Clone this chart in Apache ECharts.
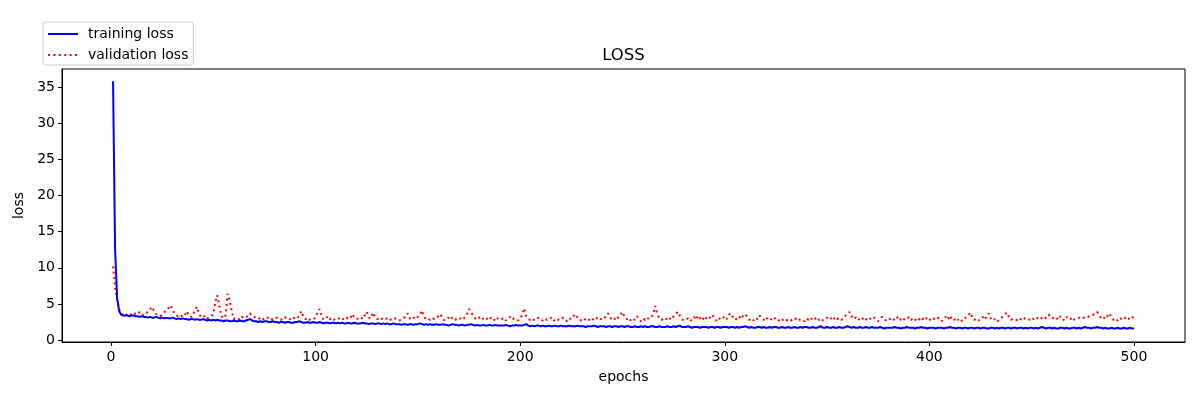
<!DOCTYPE html>
<html>
<head>
<meta charset="utf-8">
<script src="https://cdn.jsdelivr.net/npm/echarts@6/dist/echarts.min.js"></script>
<style>
html,body{margin:0;padding:0;background:#fff;}
#c{width:1200px;height:400px;}
</style>
</head>
<body>
<div id="c"></div>
<script>
var xTicks = [0, 100, 200, 300, 400, 500];
var yTicks = [0, 5, 10, 15, 20, 25, 30, 35];

var trainingLoss = [
35.8,12.5,5.8,4.0,3.5,3.4,3.4,3.4,3.3,3.4,
3.4,3.3,3.3,3.2,3.3,3.2,3.2,3.1,3.2,3.1,
3.1,3.2,3.1,3.0,3.1,3.0,3.1,3.0,3.0,3.1,
3.0,2.9,3.0,2.9,3.0,2.9,2.9,2.8,2.9,2.9,
2.8,2.9,2.8,2.8,2.9,2.8,2.7,2.8,2.7,2.8,
2.7,2.8,2.7,2.7,2.6,2.7,2.7,2.6,2.6,2.7,
2.6,2.6,2.7,2.6,2.6,2.7,2.8,2.9,2.7,2.6,
2.6,2.5,2.6,2.5,2.6,2.6,2.5,2.5,2.6,2.5,
2.5,2.4,2.5,2.5,2.4,2.5,2.5,2.4,2.4,2.5,
2.5,2.6,2.5,2.4,2.4,2.5,2.4,2.4,2.5,2.4,
2.4,2.5,2.4,2.3,2.4,2.4,2.3,2.4,2.4,2.3,
2.4,2.3,2.4,2.3,2.3,2.4,2.3,2.3,2.4,2.3,
2.3,2.3,2.4,2.3,2.3,2.2,2.3,2.3,2.2,2.3,
2.3,2.2,2.3,2.2,2.3,2.2,2.2,2.3,2.2,2.2,
2.2,2.1,2.2,2.2,2.1,2.2,2.2,2.1,2.2,2.2,
2.3,2.2,2.1,2.2,2.1,2.2,2.1,2.1,2.2,2.1,
2.1,2.2,2.1,2.1,2.0,2.1,2.2,2.1,2.1,2.0,
2.1,2.1,2.0,2.1,2.1,2.2,2.1,2.0,2.1,2.0,
2.0,2.1,2.0,2.0,2.1,2.0,2.0,2.1,2.0,2.0,
2.0,2.0,2.1,2.0,1.9,2.0,2.0,2.1,2.0,2.0,
2.0,2.1,2.2,2.0,1.9,2.0,1.9,2.0,2.0,1.9,
2.0,1.9,1.9,2.0,1.9,1.9,2.0,1.9,1.9,2.0,
1.9,1.9,1.9,2.0,1.9,1.9,1.9,2.0,1.9,1.9,
1.9,1.8,1.9,1.9,1.9,2.0,1.9,1.8,1.9,1.9,
1.9,1.8,1.9,1.9,1.8,1.9,1.9,1.8,1.9,1.9,
1.8,1.9,1.9,1.8,1.8,1.9,1.8,1.8,1.9,1.8,
1.9,1.8,1.8,1.9,1.9,1.8,1.8,1.9,1.8,1.8,
1.8,1.9,1.8,1.8,1.9,1.8,1.9,2.0,1.8,1.8,
1.8,1.9,1.8,1.7,1.8,1.8,1.8,1.7,1.8,1.8,
1.8,1.7,1.8,1.8,1.7,1.8,1.8,1.7,1.8,1.8,
1.8,1.7,1.8,1.8,1.7,1.8,1.7,1.8,1.8,1.9,
1.8,1.7,1.8,1.7,1.7,1.8,1.8,1.7,1.8,1.7,
1.7,1.8,1.7,1.8,1.8,1.7,1.7,1.8,1.7,1.7,
1.8,1.7,1.7,1.8,1.7,1.7,1.8,1.7,1.8,1.8,
1.7,1.7,1.8,1.7,1.7,1.8,1.9,1.7,1.7,1.8,
1.7,1.7,1.8,1.7,1.7,1.8,1.7,1.7,1.8,1.9,
1.8,1.7,1.8,1.7,1.7,1.8,1.7,1.7,1.8,1.7,
1.7,1.8,1.7,1.7,1.7,1.8,1.7,1.6,1.7,1.7,
1.7,1.7,1.8,1.7,1.7,1.6,1.7,1.7,1.8,1.7,
1.7,1.7,1.6,1.7,1.7,1.8,1.7,1.7,1.6,1.7,
1.7,1.7,1.6,1.7,1.7,1.7,1.6,1.7,1.7,1.8,
1.7,1.7,1.6,1.7,1.7,1.6,1.7,1.7,1.6,1.7,
1.7,1.6,1.7,1.7,1.6,1.7,1.7,1.6,1.6,1.7,
1.7,1.6,1.7,1.6,1.7,1.7,1.6,1.7,1.7,1.6,
1.7,1.7,1.6,1.7,1.7,1.6,1.7,1.6,1.7,1.7,
1.6,1.7,1.6,1.7,1.8,1.7,1.6,1.7,1.7,1.6,
1.7,1.6,1.6,1.7,1.7,1.6,1.7,1.6,1.6,1.7,
1.7,1.6,1.7,1.6,1.7,1.8,1.7,1.7,1.6,1.7,
1.7,1.8,1.7,1.7,1.6,1.7,1.6,1.6,1.7,1.6,
1.6,1.7,1.6,1.6,1.7,1.6,1.6,1.7,1.6,1.6
];

var validationLoss = [
10.2,7.4,5.4,4.3,3.6,3.5,3.7,3.4,3.6,3.5,
3.8,3.6,3.5,3.9,3.6,3.4,3.7,3.9,4.2,4.6,
4.1,3.6,3.4,3.3,3.5,3.8,4.2,4.4,4.8,4.3,
3.7,3.4,3.3,3.5,3.2,3.4,4.0,3.5,3.2,3.3,
4.2,4.6,3.6,3.2,3.1,3.4,3.0,3.1,3.3,3.6,
5.3,6.2,4.6,3.3,3.0,3.4,6.4,5.5,4.0,2.9,
3.1,3.0,2.8,3.2,3.0,3.1,3.4,3.7,3.3,3.2,
3.0,2.9,3.1,2.8,3.0,2.9,3.2,3.1,2.8,3.0,
3.1,2.9,2.8,3.0,3.2,2.9,3.0,2.8,3.1,3.0,
2.9,3.4,4.0,3.3,2.9,3.1,2.8,3.0,2.9,3.1,
3.9,4.3,3.2,2.8,3.0,3.3,2.9,3.1,2.8,3.0,
2.9,3.1,2.8,3.0,3.2,2.9,3.0,3.6,3.1,2.9,
3.0,3.2,2.9,3.4,3.9,3.1,3.0,3.8,3.2,2.9,
3.0,2.8,3.1,2.9,3.0,2.7,2.9,2.8,3.0,2.8,
2.7,2.9,3.0,3.3,3.7,3.0,2.8,3.1,2.9,3.2,
3.5,4.1,3.2,2.9,3.0,2.8,3.1,2.9,3.0,3.3,
3.6,3.0,2.7,2.9,3.1,2.8,3.2,3.0,2.7,2.9,
3.0,2.8,3.2,3.6,4.3,3.8,3.4,3.0,2.8,3.1,
3.3,2.9,2.7,3.0,2.8,3.2,2.9,2.6,3.0,2.8,
2.9,3.1,2.7,2.9,3.2,2.8,3.0,2.9,2.7,3.0,
3.5,4.4,3.3,2.9,2.8,3.0,2.7,2.9,3.1,2.8,
2.7,3.0,2.8,2.9,3.1,2.6,2.8,3.0,2.7,2.9,
3.1,2.8,2.6,3.0,2.9,3.3,3.6,3.1,2.8,2.7,
3.0,2.8,2.6,2.9,3.1,2.7,2.9,3.2,3.0,2.8,
2.9,3.4,3.7,3.1,2.8,3.0,2.7,3.2,3.5,3.9,
3.2,2.9,3.1,2.7,3.0,2.8,3.3,2.9,2.6,3.0,
2.8,3.1,2.9,3.2,3.5,4.7,3.6,3.0,2.8,2.9,
3.1,2.7,3.0,2.8,3.3,3.6,3.9,3.4,2.9,2.7,
2.8,3.0,2.6,2.9,3.2,2.8,3.4,3.0,2.7,3.3,
3.0,2.8,3.2,3.5,2.9,2.7,3.1,2.8,3.0,3.3,
2.9,3.5,3.7,3.1,2.8,3.0,3.3,2.9,3.4,3.6,
3.2,2.8,3.0,2.7,3.1,2.9,3.4,3.0,2.8,3.2,
2.9,2.7,3.0,3.2,2.8,2.6,2.9,2.7,3.0,2.8,
2.7,2.9,2.6,2.8,3.0,2.7,2.9,2.8,2.6,3.0,
2.8,3.1,2.7,2.9,3.2,2.8,3.0,2.7,2.9,3.1,
2.8,3.0,2.7,3.2,2.9,3.1,2.8,3.0,3.4,3.6,
3.9,3.3,2.9,3.1,2.7,3.0,2.8,3.2,2.9,2.7,
3.0,2.8,3.1,2.9,2.6,3.0,3.2,2.8,2.7,3.0,
2.9,3.1,2.7,3.0,3.3,2.8,2.6,3.0,2.9,3.2,
2.8,3.0,2.7,3.1,2.9,2.6,3.0,2.8,3.2,2.9,
2.7,3.0,2.8,3.1,2.9,2.6,3.0,3.2,2.8,3.4,
2.9,2.7,3.1,2.8,3.0,2.6,2.9,3.2,3.4,3.8,
3.1,2.8,3.0,2.7,2.9,3.2,2.8,3.3,3.7,3.0,
2.7,2.9,2.5,2.8,3.0,3.3,3.6,3.8,3.1,2.8,
3.0,2.9,2.7,3.0,2.8,3.1,2.9,3.0,2.8,3.1,
2.9,3.2,3.0,2.8,3.1,3.3,3.0,3.4,3.5,3.2,
2.9,3.1,2.8,3.3,3.0,2.7,3.2,2.9,3.0,2.6,
2.9,3.0,3.1,2.9,3.0,3.2,3.1,3.3,3.4,3.5,
3.7,3.9,3.4,3.0,3.2,2.9,3.3,3.7,3.1,2.8,
3.0,2.7,3.1,2.9,2.8,3.2,2.9,3.0,3.3,2.8
];

function pairs(arr) {
  var out = [];
  for (var i = 0; i < arr.length; i++) out.push([i + 1, arr[i]]);
  return out;
}

var FONT = 'DejaVu Sans';
var chart = echarts.init(document.getElementById('c'), null, {renderer: 'canvas'});
chart.setOption({
  animation: false,
  backgroundColor: '#ffffff',
  textStyle: {fontFamily: FONT},
  title: {
    text: 'LOSS',
    left: 623.5,
    textAlign: 'center',
    top: 47,
    padding: 0,
    textStyle: {fontFamily: FONT, fontSize: 16.5, fontWeight: 'normal', color: '#000'}
  },
  legend: {
    orient: 'vertical',
    left: 43,
    top: 22,
    padding: [5, 5, 3, 5],
    itemGap: 7,
    itemWidth: 30,
    itemHeight: 14,
    backgroundColor: '#ffffff',
    borderColor: '#cccccc',
    borderWidth: 1,
    borderRadius: 3,
    textStyle: {fontFamily: FONT, fontSize: 14, color: '#000', padding: [0, 0, 0, 5]},
    data: [
      {name: 'training loss', icon: 'path://M0,6L30,6L30,8L0,8Z', itemStyle: {color: '#0000ff'}},
      {name: 'validation loss', icon: 'path://M0,6L2,6L2,8L0,8Z M5.4,6L7.4,6L7.4,8L5.4,8Z M10.8,6L12.8,6L12.8,8L10.8,8Z M16.2,6L18.2,6L18.2,8L16.2,8Z M21.6,6L23.6,6L23.6,8L21.6,8Z M27,6L29,6L29,8L27,8Z M29.9,6L30,6L30,8L29.9,8Z', itemStyle: {color: '#ff0000'}}
    ]
  },
  grid: {
    left: 62, right: 15, top: 69, bottom: 58,
    show: true, borderColor: '#000', borderWidth: 1, backgroundColor: '#fff'
  },
  xAxis: {
    type: 'value',
    min: -23.95, max: 524.95,
    name: 'epochs',
    nameLocation: 'middle',
    nameGap: 28,
    nameTextStyle: {fontFamily: FONT, fontSize: 14, color: '#000'},
    axisLine: {show: true, onZero: false, lineStyle: {color: '#000', width: 1}},
    axisTick: {show: true, inside: false, length: 4, customValues: xTicks, lineStyle: {color: '#000'}},
    axisLabel: {show: true, margin: 8, customValues: xTicks, fontFamily: FONT, fontSize: 14, color: '#000'},
    splitLine: {show: false}
  },
  yAxis: {
    type: 'value',
    min: -0.27, max: 37.5,
    name: 'loss',
    nameLocation: 'middle',
    nameGap: 30,
    nameTextStyle: {fontFamily: FONT, fontSize: 14, color: '#000'},
    axisLine: {show: true, onZero: false, lineStyle: {color: '#000', width: 1}},
    axisTick: {show: true, inside: false, length: 4, customValues: yTicks, lineStyle: {color: '#000'}},
    axisLabel: {show: true, margin: 7, customValues: yTicks, fontFamily: FONT, fontSize: 14, color: '#000'},
    splitLine: {show: false}
  },
  series: [
    {
      name: 'training loss',
      type: 'line',
      data: pairs(trainingLoss),
      showSymbol: false,
      symbol: 'none',
      z: 3,
      lineStyle: {color: '#0000ff', width: 2},
      itemStyle: {color: '#0000ff'}
    },
    {
      name: 'validation loss',
      type: 'line',
      data: pairs(validationLoss),
      showSymbol: false,
      symbol: 'none',
      z: 2,
      lineStyle: {color: '#ff0000', width: 2, type: [2, 3.4], cap: 'butt'},
      itemStyle: {color: '#ff0000'}
    }
  ]
});
</script>
</body>
</html>
